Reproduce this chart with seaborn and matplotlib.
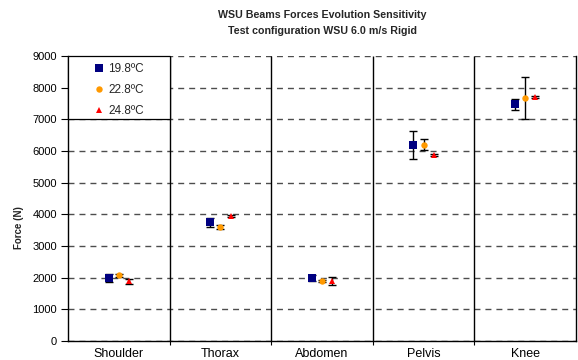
import numpy as np
import pandas as pd
import matplotlib
matplotlib.use("Agg")
import matplotlib.pyplot as plt
import seaborn as sns
from matplotlib.patches import Rectangle
from matplotlib.lines import Line2D

# Body regions and temperature conditions
parts = ["Shoulder", "Thorax", "Abdomen", "Pelvis", "Knee"]
temps = ["19.8ºC", "22.8ºC", "24.8ºC"]

# Mean force (N) and spread per region, one list per temperature
force_198 = [2000, 3750, 2000, 6200, 7470]
spread_198 = [130, 150, 100, 440, 170]
force_228 = [2070, 3600, 1900, 6200, 7680]
spread_228 = [50, 50, 40, 180, 660]
force_248 = [1880, 3950, 1900, 5870, 7710]
spread_248 = [70, 30, 120, 40, 40]

y_ticks = [0, 1000, 2000, 3000, 4000, 5000, 6000, 7000, 8000, 9000]

colors = ["#000080", "#FF9900", "#FF0000"]
markers = ["s", "o", "^"]
marker_sizes = [5.2, 4.6, 4.8]

sns.set_theme(style="white")
plt.rcParams["font.family"] = ["Liberation Sans", "DejaVu Sans"]

W, H = 578, 360
fig = plt.figure(figsize=(W / 100, H / 100), dpi=100)
ax_l, ax_r, ax_t, ax_b = 68, 576, 56, 341
ax = fig.add_axes([ax_l / W, 1 - ax_b / H, (ax_r - ax_l) / W, (ax_b - ax_t) / H])

df = pd.DataFrame({
    "part": parts * 3,
    "temp": np.repeat(temps, len(parts)),
    "force": force_198 + force_228 + force_248,
})

sns.pointplot(
    data=df, x="part", y="force", hue="temp",
    order=parts, hue_order=temps, palette=colors, markers=markers,
    linestyle="none", dodge=0.2, errorbar=None, legend=False, ax=ax,
)

spreads = [spread_198, spread_228, spread_248]
series_lines = ax.lines[:3]
for line, sd, ms in zip(series_lines, spreads, marker_sizes):
    line.set_markersize(ms)
    line.set_markeredgewidth(0)
    line.set_zorder(5)
    ax.errorbar(line.get_xdata(), line.get_ydata(), yerr=sd, fmt="none",
                ecolor="black", elinewidth=1.0, capsize=3, capthick=1.0,
                zorder=4)

ax.set_xlim(-0.5, len(parts) - 0.5)
ax.set_ylim(0, 9000)
ax.set_yticks(y_ticks)
ax.set_yticklabels([str(v) for v in y_ticks], fontsize=8, color="black")
ax.set_xticks(range(len(parts)))
ax.set_xticklabels(parts, fontsize=9, color="black")
ax.set_xlabel("")
ax.set_ylabel("")

# Horizontal dashed grid
ax.yaxis.grid(True, linestyle=(0, (4.3, 3.6)), color="#4d4d4d", linewidth=1.0)
ax.set_axisbelow(True)

# Category separators
bounds = [i + 0.5 for i in range(len(parts) - 1)]
ax.vlines(bounds, 0, 9000, color="black", linewidth=1.0, zorder=2)
ax.set_xticks(bounds, minor=True)

ax.tick_params(axis="y", which="major", direction="out", length=5, width=0.8,
               color="black", pad=3, left=True)
ax.tick_params(axis="x", which="major", length=0, pad=5)
ax.tick_params(axis="x", which="minor", direction="out", length=3, width=0.8,
               color="black", bottom=True)

for side in ["left", "right", "bottom"]:
    ax.spines[side].set_visible(True)
    ax.spines[side].set_color("black")
    ax.spines[side].set_linewidth(1.0)
ax.spines["top"].set_visible(False)

# Legend box in the upper-left corner
box_w = 102 / (ax_r - ax_l)
ax.add_patch(Rectangle((0, 7000 / 9000), box_w, 2000 / 9000,
                       transform=ax.transAxes, facecolor="white",
                       edgecolor="black", linewidth=0.9, zorder=6,
                       clip_on=False))
handles = [Line2D([], [], linestyle="none", marker=m, color=c,
                  markersize=ms, markeredgewidth=0)
           for m, c, ms in zip(markers, colors, marker_sizes)]
leg = ax.legend(handles, temps, loc="center", bbox_to_anchor=(box_w / 2, 7930 / 9000),
                frameon=False, fontsize=8.5, handlelength=0.8,
                handletextpad=0.35, labelspacing=0.75, borderpad=0)
leg.set_zorder(7)

fig.text(19 / W, 1 - 228 / H, "Force (N)", rotation=90, fontsize=7,
         fontweight="bold", ha="center", va="center")
fig.text(322 / W, 1 - 15 / H, "WSU Beams Forces Evolution Sensitivity",
         fontsize=7.7, fontweight="bold", ha="center", va="center")
fig.text(322 / W, 1 - 31 / H, "Test configuration WSU 6.0 m/s Rigid",
         fontsize=7.7, fontweight="bold", ha="center", va="center")

fig.savefig("out.png", dpi=100, facecolor="white")
